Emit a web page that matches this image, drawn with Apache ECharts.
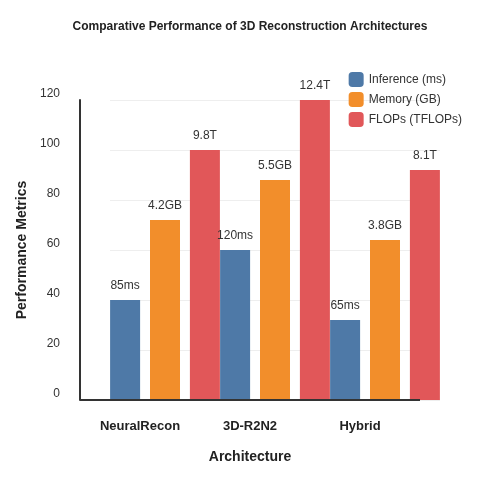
<!DOCTYPE html>
<html><head><meta charset="utf-8">
<script src="https://cdn.jsdelivr.net/npm/echarts@6/dist/echarts.min.js"></script>
<style>html,body{margin:0;padding:0;background:#fff}#chart{width:500px;height:500px}</style>
</head><body><div id="chart"></div>
<script>
const categories = ['NeuralRecon', '3D-R2N2', 'Hybrid'];
const inference = [40, 60, 32];
const memory = [72, 88, 64];
const flops = [100, 120, 92];
const inferenceLabels = ['85ms', '120ms', '65ms'];
const memoryLabels = ['4.2GB', '5.5GB', '3.8GB'];
const flopsLabels = ['9.8T', '12.4T', '8.1T'];

const chart = echarts.init(document.getElementById('chart'));

function makeSeries(name, values, labels, color) {
  return {
    name: name,
    type: 'bar',
    barWidth: 30,
    barGap: '33%',
    data: values,
    itemStyle: { color: color },
    label: {
      show: true,
      position: 'top',
      distance: 8,
      color: '#333',
      fontSize: 12,
      formatter: function (p) { return labels[p.dataIndex]; }
    }
  };
}

chart.setOption({
  textStyle: { fontFamily: 'Liberation Sans, Arial, sans-serif' },
  title: {
    text: 'Comparative Performance of 3D Reconstruction Architectures',
    left: 'center',
    top: 16,
    textStyle: { fontSize: 12, fontWeight: 'bold', color: '#222' }
  },
  legend: {
    orient: 'vertical',
    right: 33,
    top: 67,
    itemWidth: 15,
    itemHeight: 15,
    itemGap: 5,
    textStyle: { fontSize: 12, color: '#333' },
    data: ['Inference (ms)', 'Memory (GB)', 'FLOPs (TFLOPs)']
  },
  grid: { left: 110, right: 60, top: 100, bottom: 100 },
  graphic: [{
    type: 'line',
    shape: { x1: 80, y1: 400, x2: 420, y2: 400 },
    style: { stroke: '#333', lineWidth: 2 },
    z: 10
  }],
  xAxis: {
    type: 'category',
    data: categories,
    name: 'Architecture',
    nameLocation: 'middle',
    nameGap: 50,
    nameTextStyle: { fontSize: 14, fontWeight: 'bold', color: '#222', padding: [0, 50, 0, 0] },
    axisLine: { show: false },
    axisTick: { show: false },
    axisLabel: { fontSize: 13, fontWeight: 'bold', color: '#222', margin: 20, padding: [0, 50, 0, 0] }
  },
  yAxis: {
    type: 'value',
    min: 0,
    max: 120,
    interval: 20,
    offset: 30,
    name: 'Performance Metrics',
    nameLocation: 'middle',
    nameGap: 50,
    nameTextStyle: { fontSize: 14, fontWeight: 'bold', color: '#222' },
    axisLine: { show: true, lineStyle: { color: '#333', width: 2 } },
    axisTick: { show: false },
    splitLine: { lineStyle: { color: '#eee' } },
    axisLabel: { fontSize: 12, color: '#333', margin: 20, verticalAlign: 'bottom' }
  },
  series: [
    makeSeries('Inference (ms)', inference, inferenceLabels, '#4e79a7'),
    makeSeries('Memory (GB)', memory, memoryLabels, '#f28e2b'),
    makeSeries('FLOPs (TFLOPs)', flops, flopsLabels, '#e15759')
  ]
});
</script></body></html>
